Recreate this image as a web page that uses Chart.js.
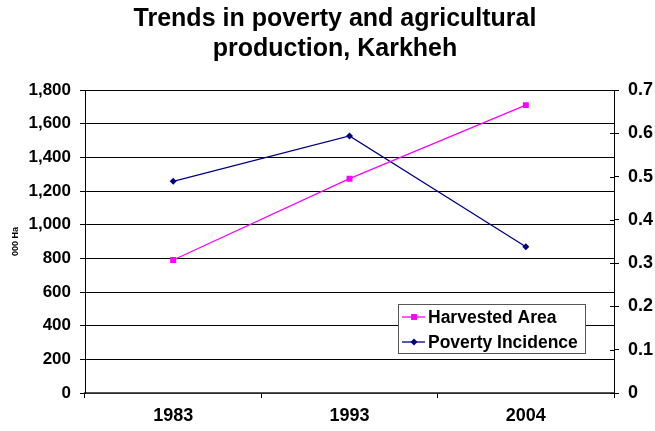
<!DOCTYPE html>
<html>
<head>
<meta charset="utf-8">
<title>Trends in poverty and agricultural production, Karkheh</title>
<script src="https://cdn.jsdelivr.net/npm/chart.js@4.4.1/dist/chart.umd.min.js"></script>
<style>
  html, body { margin: 0; padding: 0; background: #fff; }
</style>
</head>
<body>
<canvas id="chart" width="655" height="431"></canvas>
<script>
// Data
const years = ['1983', '1993', '2004'];
const harvestedArea = [790, 1273, 1710];        // 000 Ha, left axis
const povertyIncidence = [0.489, 0.594, 0.338]; // ratio, right axis
const areaAxis = { min: 0, max: 1800, step: 200 };
const povertyAxis = { min: 0, max: 0.7, step: 0.1 };
const titleLines = ['Trends in poverty and agricultural', 'production, Karkheh'];
const seriesNames = ['Harvested Area', 'Poverty Incidence'];

const FONT = "'Liberation Sans', Arial, Helvetica, sans-serif";
const tickFont = { family: FONT, size: 18, weight: 'bold' };

// Marker drawing used by the legend
function drawMarker(ctx, style, x, y, r, color) {
    ctx.save();
    ctx.fillStyle = color;
    ctx.beginPath();
    if (style === 'rect') {
        const s = r * Math.SQRT1_2;
        ctx.rect(x - s, y - s, s * 2, s * 2);
    } else {
        ctx.moveTo(x, y - r);
        ctx.lineTo(x + r, y);
        ctx.lineTo(x, y + r);
        ctx.lineTo(x - r, y);
        ctx.closePath();
    }
    ctx.fill();
    ctx.restore();
}

// Two-line heading
const titlePlugin = {
    id: 'twoLineTitle',
    afterDraw(chart) {
        const ctx = chart.ctx;
        ctx.save();
        ctx.font = 'bold 25px ' + FONT;
        ctx.fillStyle = '#000';
        ctx.textAlign = 'center';
        ctx.textBaseline = 'alphabetic';
        titleLines.forEach((line, i) => ctx.fillText(line, 335, 26 + i * 30));
        ctx.restore();
    }
};

// Boxed legend sitting inside the plot, lower right
const boxLegend = {
    id: 'boxLegend',
    afterDraw(chart) {
        const ctx = chart.ctx;
        const area = chart.chartArea;
        const w = 187, h = 49;
        const left = area.right - 29 - w;
        const top = area.bottom - 89;
        ctx.save();
        ctx.fillStyle = '#fff';
        ctx.fillRect(left, top, w, h);
        ctx.strokeStyle = '#555';
        ctx.lineWidth = 1;
        ctx.strokeRect(left + 0.5, top + 0.5, w, h);
        ctx.font = 'bold 17.5px ' + FONT;
        ctx.textBaseline = 'middle';
        chart.data.datasets.forEach((ds, i) => {
            const y = top + 13 + i * 25;
            ctx.strokeStyle = ds.borderColor;
            ctx.lineWidth = 1.3;
            ctx.beginPath();
            ctx.moveTo(left + 4, y);
            ctx.lineTo(left + 27, y);
            ctx.stroke();
            drawMarker(ctx, ds.pointStyle, left + 16, y, ds.pointRadius, ds.pointBackgroundColor);
            ctx.fillStyle = '#000';
            ctx.fillText(ds.label, left + 30, y + 1);
        });
        ctx.restore();
    }
};

// Right axis ticks cross the axis line
const crossTicks = {
    id: 'crossTicks',
    afterDraw(chart) {
        const scale = chart.scales.y1;
        const ctx = chart.ctx;
        ctx.save();
        ctx.strokeStyle = '#000';
        ctx.lineWidth = 1;
        scale.ticks.forEach(t => {
            const y = Math.round(scale.getPixelForValue(t.value)) + 0.5;
            ctx.beginPath();
            ctx.moveTo(scale.left - 4, y);
            ctx.lineTo(scale.left, y);
            ctx.stroke();
        });
        ctx.restore();
    }
};

new Chart(document.getElementById('chart'), {
    type: 'line',
    data: {
        labels: years,
        datasets: [
            {
                label: seriesNames[0],
                data: harvestedArea,
                yAxisID: 'y',
                borderColor: '#ff00ff',
                backgroundColor: '#ff00ff',
                pointBackgroundColor: '#ff00ff',
                pointBorderColor: '#ff00ff',
                borderWidth: 1.3,
                pointStyle: 'rect',
                pointRadius: 4.2,
                pointBorderWidth: 0,
                tension: 0
            },
            {
                label: seriesNames[1],
                data: povertyIncidence,
                yAxisID: 'y1',
                borderColor: '#000080',
                backgroundColor: '#000080',
                pointBackgroundColor: '#000080',
                pointBorderColor: '#000080',
                borderWidth: 1.3,
                pointStyle: 'rectRot',
                pointRadius: 3.5,
                pointBorderWidth: 0,
                tension: 0
            }
        ]
    },
    options: {
        responsive: false,
        animation: false,
        devicePixelRatio: 1,
        layout: {
            padding: { top: 90, left: 0, right: 0, bottom: 0 }
        },
        plugins: {
            legend: { display: false },
            title: { display: false },
            tooltip: { enabled: false }
        },
        scales: {
            x: {
                type: 'category',
                offset: true,
                grid: {
                    offset: true,
                    drawOnChartArea: false,
                    tickLength: 5,
                    color: '#000'
                },
                border: { color: '#555', width: 1.5 },
                ticks: { font: tickFont, color: '#000', padding: 7 },
                afterFit(s) { s.height = 38; }
            },
            y: {
                position: 'left',
                min: areaAxis.min,
                max: areaAxis.max,
                ticks: {
                    stepSize: areaAxis.step,
                    font: { family: FONT, size: 17, weight: 'bold' },
                    color: '#000',
                    padding: 9,
                    callback: v => v.toLocaleString('en-US')
                },
                grid: { color: '#000', tickLength: 5 },
                border: { color: '#000' },
                title: {
                    display: true,
                    text: '000 Ha',
                    color: '#000',
                    font: { family: FONT, size: 9, weight: 'bold' },
                    padding: { top: 10, bottom: 0 }
                },
                afterFit(s) { s.width = 85; }
            },
            y1: {
                position: 'right',
                min: povertyAxis.min,
                max: povertyAxis.max,
                ticks: {
                    stepSize: povertyAxis.step,
                    font: tickFont,
                    color: '#000',
                    padding: 9,
                    callback: v => (v === 0 ? '0' : v.toFixed(1))
                },
                grid: { drawOnChartArea: false, color: '#000', tickLength: 5 },
                border: { color: '#000' },
                afterFit(s) { s.width = 41; }
            }
        }
    },
    plugins: [titlePlugin, boxLegend, crossTicks]
});
</script>
</body>
</html>
